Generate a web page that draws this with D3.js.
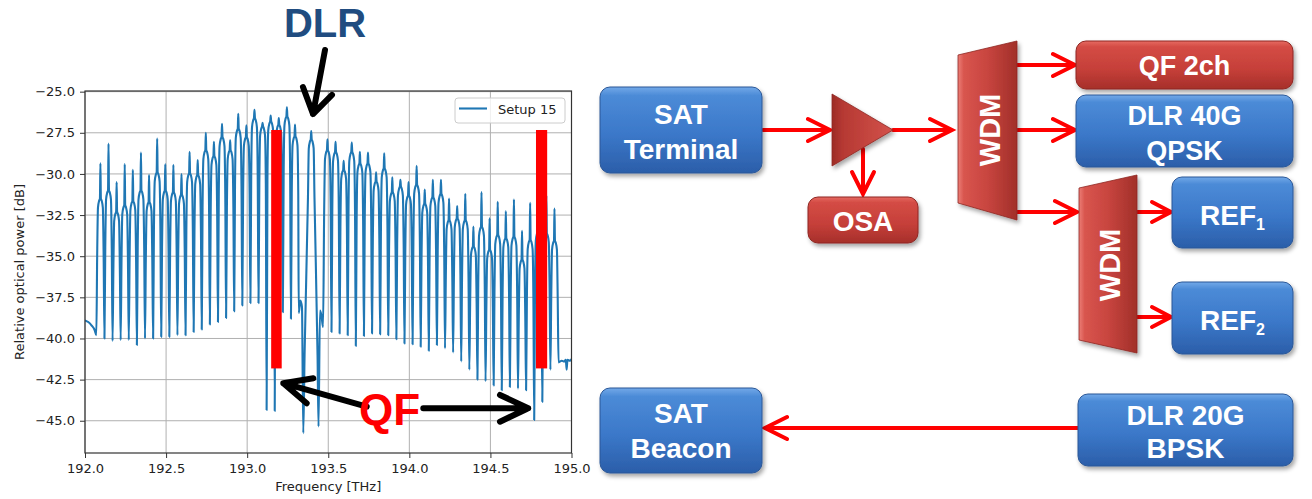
<!DOCTYPE html>
<html>
<head>
<meta charset="utf-8">
<script src="https://cdn.jsdelivr.net/npm/d3@7"></script>
<style>
  html, body { margin: 0; padding: 0; background: #ffffff; }
  svg { display: block; }
</style>
</head>
<body>
<svg id="fig" width="1312" height="499"></svg>
<script>
// ---------------- Spectrum (Setup 15) ----------------
// Channel centres [THz], spike tops and passband shoulders [dB]
const channelFreq = [
  192.095, 192.145, 192.195, 192.245, 192.295, 192.345, 192.395, 192.445, 192.495, 192.545,
  192.595, 192.645, 192.695, 192.745, 192.795, 192.845, 192.895, 192.945, 192.995, 193.045,
  193.095, 193.145, 193.195, 193.245, 193.295, 193.395, 193.495, 193.545, 193.595, 193.645,
  193.695, 193.745, 193.795, 193.845, 193.895, 193.945, 193.995, 194.045, 194.095, 194.145,
  194.195, 194.245, 194.295, 194.345, 194.395, 194.445, 194.495, 194.545, 194.595, 194.645,
  194.695, 194.745, 194.795, 194.845, 194.895
];
const channelPeak = [
  -29.35, -28.15, -30.5, -29.4, -29.75, -28.7, -30.05, -27.85, -29.4, -29.45,
  -30.0, -28.65, -29.15, -27.5, -28.05, -26.95, -27.95, -26.35, -27.05, -26.1,
  -26.9, -26.45, -26.6, -25.95, -27.0, -27.4, -27.9, -28.05, -29.2, -28.1,
  -28.65, -28.7, -29.9, -28.75, -30.2, -30.35, -30.5, -29.5, -30.95, -30.35,
  -30.35, -31.5, -31.95, -31.2, -33.2, -31.1, -32.7, -31.7, -32.25, -31.55,
  -33.45, -31.75, -32.0, -31.3, -32.1
];
const channelShoulder = [
  -31.5, -31.0, -32.3, -31.9, -31.65, -31.0, -31.7, -29.9, -31.0, -31.1,
  -31.25, -29.95, -30.05, -28.55, -28.9, -27.75, -28.55, -27.25, -27.75, -26.6,
  -27.1, -26.8, -27.0, -26.5, -27.7, -27.9, -28.55, -28.65, -29.75, -28.65,
  -29.35, -29.35, -30.45, -29.65, -31.1, -30.75, -31.3, -30.65, -31.8, -31.4,
  -31.2, -32.8, -32.7, -32.8, -34.4, -33.2, -34.6, -33.7, -33.9, -33.8,
  -35.2, -34.0, -33.5, -33.6, -34.05
];
// Inter-channel notch minima
const notchFreq = [
  192.07, 192.12, 192.17, 192.22, 192.27, 192.32, 192.37, 192.42, 192.47, 192.52,
  192.57, 192.62, 192.67, 192.72, 192.77, 192.82, 192.87, 192.92, 192.97, 193.02,
  193.07, 193.12, 193.17, 193.22, 193.27, 193.346, 193.44, 193.52, 193.57, 193.62,
  193.67, 193.72, 193.77, 193.82, 193.87, 193.92, 193.97, 194.02, 194.07, 194.12,
  194.17, 194.22, 194.27, 194.32, 194.37, 194.42, 194.47, 194.52, 194.57, 194.62,
  194.67, 194.72, 194.77, 194.82, 194.87, 194.92
];
const notchDb = [
  -39.8, -40.0, -40.15, -40.1, -40.1, -40.4, -40.0, -40.0, -39.9, -39.9,
  -39.8, -39.8, -39.6, -39.45, -39.15, -39.0, -38.75, -38.35, -38.0, -37.85,
  -37.85, -44.35, -44.4, -38.4, -38.8, -45.75, -45.35, -39.6, -39.7, -39.8,
  -40.45, -39.85, -39.7, -39.75, -39.8, -40.05, -40.3, -40.35, -40.5, -40.75,
  -40.4, -40.6, -40.85, -41.4, -41.9, -42.5, -42.6, -42.85, -43.15, -42.95,
  -43.05, -43.15, -44.95, -43.85, -41.9, -41.45
];
// Out-of-band floor and guard shelves around the DLR channel
const shelfFreq = [
  192.0, 192.02, 192.04, 192.06,
  193.318, 193.328, 193.338, 193.354,
  193.434, 193.449, 193.458, 193.468,
  194.94, 194.955, 194.965, 194.97, 194.975, 194.99, 195.0
];
const shelfDb = [
  -38.9, -39.0, -39.2, -39.5,
  -38.45, -37.7, -38.1, -41.0,
  -41.0, -38.3, -38.6, -39.3,
  -41.35, -41.4, -41.3, -41.9, -41.3, -41.35, -41.25
];
const seriesName = "Setup 15";
const xTicks = [192.0, 192.5, 193.0, 193.5, 194.0, 194.5, 195.0];
const yTicks = [-45.0, -42.5, -40.0, -37.5, -35.0, -32.5, -30.0, -27.5, -25.0];
const xLabel = "Frequency [THz]";
const yLabel = "Relative optical power [dB]";
// QF channel markers (frequency spans and level span)
const qfBandFreq = [[193.148, 193.213], [194.781, 194.850]];
const qfBandDb = [-27.33, -41.82];

// ---------------- Setup diagram labels ----------------
const blockLines = [
  ["SAT", "Terminal"],
  ["OSA"],
  ["QF 2ch"],
  ["DLR 40G", "QPSK"],
  ["REF|1"],
  ["REF|2"],
  ["SAT", "Beacon"],
  ["DLR 20G", "BPSK"]
];
const wdmLabel = "WDM";

// =====================================================
const svg = d3.select("#fig");
const defs = svg.append("defs");

const plot = { left: 85, right: 571.5, top: 91, bottom: 453 };
const x = d3.scaleLinear().domain([192, 195]).range([plot.left, plot.right]);
const y = d3.scaleLinear().domain([-46.96, -24.96]).range([plot.bottom, plot.top]);
const tickFont = "'DejaVu Sans', sans-serif";

defs.append("clipPath").attr("id", "plotClip")
  .append("rect")
  .attr("x", plot.left).attr("y", plot.top)
  .attr("width", plot.right - plot.left).attr("height", plot.bottom - plot.top);

// grid
const grid = svg.append("g");
grid.selectAll(".gx").data(xTicks).join("line")
  .attr("x1", d => x(d)).attr("x2", d => x(d))
  .attr("y1", plot.top).attr("y2", plot.bottom)
  .attr("stroke", "#b0b0b0").attr("stroke-width", 1);
grid.selectAll(".gy").data(yTicks).join("line")
  .attr("x1", plot.left).attr("x2", plot.right)
  .attr("y1", d => y(d)).attr("y2", d => y(d))
  .attr("stroke", "#b0b0b0").attr("stroke-width", 1);

// trace: each channel is a flat-topped passband with a carrier spike
const trace = [];
channelFreq.forEach((c, i) => {
  const S = channelShoulder[i], P = channelPeak[i];
  const profile = [
    [-0.02, S - 3.5], [-0.015, S - 0.55], [-0.0075, S - 0.12], [-0.003, S],
    [0, P],
    [0.003, S], [0.0075, S - 0.12], [0.015, S - 0.55], [0.02, S - 3.5]
  ];
  profile.forEach(([d, v]) => trace.push({ f: c + d, v }));
});
notchFreq.forEach((f, i) => trace.push({ f, v: notchDb[i] }));
shelfFreq.forEach((f, i) => trace.push({ f, v: shelfDb[i] }));
trace.sort((a, b) => a.f - b.f);

const line = d3.line().x(d => x(d.f)).y(d => y(d.v)).curve(d3.curveMonotoneX);
svg.append("path")
  .datum(trace)
  .attr("clip-path", "url(#plotClip)")
  .attr("d", line)
  .attr("fill", "none")
  .attr("stroke", "#1f77b4")
  .attr("stroke-width", 2.1)
  .attr("stroke-linejoin", "round");

// axes
const fmt = d3.format(".1f");
const xAxis = svg.append("g")
  .attr("transform", `translate(0,${plot.bottom})`)
  .call(d3.axisBottom(x).tickValues(xTicks).tickFormat(fmt).tickSize(5).tickPadding(6));
const yAxis = svg.append("g")
  .attr("transform", `translate(${plot.left},0)`)
  .call(d3.axisLeft(y).tickValues(yTicks).tickFormat(fmt).tickSize(5).tickPadding(5));
[xAxis, yAxis].forEach(g => {
  g.select(".domain").remove();
  g.selectAll(".tick line").attr("stroke", "#333").attr("stroke-width", 1);
  g.selectAll(".tick text")
    .attr("fill", "#222")
    .style("font-family", tickFont)
    .style("font-size", "13px");
});

// frame
svg.append("rect")
  .attr("x", plot.left).attr("y", plot.top)
  .attr("width", plot.right - plot.left).attr("height", plot.bottom - plot.top)
  .attr("fill", "none").attr("stroke", "#333").attr("stroke-width", 1.2);

// axis labels
svg.append("text")
  .attr("x", (plot.left + plot.right) / 2).attr("y", 491)
  .attr("text-anchor", "middle")
  .attr("fill", "#222")
  .style("font-family", tickFont).style("font-size", "13px")
  .text(xLabel);
svg.append("text")
  .attr("transform", `translate(23.5,${(plot.top + plot.bottom) / 2}) rotate(-90)`)
  .attr("text-anchor", "middle")
  .attr("fill", "#222")
  .style("font-family", tickFont).style("font-size", "13px")
  .text(yLabel);

// legend
const leg = svg.append("g");
leg.append("rect")
  .attr("x", 455).attr("y", 98).attr("width", 110).attr("height", 25).attr("rx", 3)
  .attr("fill", "#fff").attr("fill-opacity", 0.8)
  .attr("stroke", "#cccccc").attr("stroke-width", 1);
leg.append("line")
  .attr("x1", 459).attr("x2", 487).attr("y1", 108.5).attr("y2", 108.5)
  .attr("stroke", "#1f77b4").attr("stroke-width", 2.1);
leg.append("text")
  .attr("x", 498).attr("y", 114)
  .attr("fill", "#222")
  .style("font-family", tickFont).style("font-size", "13px")
  .text(seriesName);

// ---------------- annotations on the spectrum ----------------
const boldFont = "'Liberation Sans', Arial, sans-serif";
svg.selectAll(".qfband").data(qfBandFreq).join("rect")
  .attr("x", d => x(d[0])).attr("width", d => x(d[1]) - x(d[0]))
  .attr("y", y(qfBandDb[0])).attr("height", y(qfBandDb[1]) - y(qfBandDb[0]))
  .attr("fill", "#ff0000");

function blackArrow(tail, tip, armA, armB) {
  const p = d3.path();
  p.moveTo(x(tail[0]), y(tail[1]));
  p.lineTo(x(tip[0]), y(tip[1]));
  p.moveTo(x(armA[0]), y(armA[1]));
  p.lineTo(x(tip[0]), y(tip[1]));
  p.lineTo(x(armB[0]), y(armB[1]));
  svg.append("path").attr("d", p.toString())
    .attr("fill", "none").attr("stroke", "#000").attr("stroke-width", 6)
    .attr("stroke-linecap", "round").attr("stroke-linejoin", "round");
}
// DLR pointer
blackArrow([193.480, -22.47], [193.406, -26.36], [193.344, -24.72], [193.523, -25.20]);
// QF pointers
blackArrow([193.737, -44.14], [193.223, -42.72], [193.408, -42.42], [193.367, -43.94]);
blackArrow([194.086, -44.24], [194.733, -44.24], [194.559, -43.43], [194.559, -45.06]);

svg.append("text")
  .attr("x", x(193.48)).attr("y", y(-21.68))
  .attr("text-anchor", "middle")
  .attr("fill", "#204c80")
  .style("font-family", boldFont).style("font-weight", "bold").style("font-size", "40px")
  .text("DLR");
svg.append("text")
  .attr("x", x(193.878)).attr("y", y(-45.26))
  .attr("text-anchor", "middle")
  .attr("fill", "#ff0000")
  .style("font-family", boldFont).style("font-weight", "bold").style("font-size", "44px")
  .text("QF");

// ---------------- setup diagram ----------------
const shadow = defs.append("filter").attr("id", "shadow")
  .attr("x", "-20%").attr("y", "-20%").attr("width", "140%").attr("height", "150%");
shadow.append("feDropShadow")
  .attr("dx", 2).attr("dy", 3).attr("stdDeviation", 2)
  .attr("flood-color", "#000").attr("flood-opacity", 0.35);

function vGrad(id, stops) {
  const g = defs.append("linearGradient").attr("id", id)
    .attr("x1", 0).attr("y1", 0).attr("x2", 0).attr("y2", 1);
  stops.forEach(([o, c]) => g.append("stop").attr("offset", o).attr("stop-color", c));
}
function hGrad(id, stops) {
  const g = defs.append("linearGradient").attr("id", id)
    .attr("x1", 0).attr("y1", 0).attr("x2", 1).attr("y2", 0);
  stops.forEach(([o, c]) => g.append("stop").attr("offset", o).attr("stop-color", c));
}
vGrad("blueFill", [[0, "#72a9e8"], [0.1, "#4c8bd7"], [0.55, "#3b78c9"], [1, "#2b5ea9"]]);
vGrad("redFill", [[0, "#e66a62"], [0.12, "#d44c45"], [0.6, "#c53f39"], [1, "#a62f2a"]]);
hGrad("wdmFill", [[0, "#ec7e76"], [0.1, "#d8554e"], [0.5, "#c8453f"], [1, "#a12f29"]]);
hGrad("ampFill", [[0, "#9c2b25"], [0.18, "#b63933"], [1, "#d3524b"]]);

const redArrow = "#ff0000";
const links = [
  [763, 130, 830, 130],
  [893, 130, 952, 130],
  [863, 149, 863, 194],
  [1017, 65, 1075, 65],
  [1017, 130, 1075, 130],
  [1017, 212, 1077, 212],
  [1137, 212, 1171, 212],
  [1137, 317, 1171, 317],
  [1078, 428, 765, 428]
];

const blockLayout = [
  { x: 600, y: 87, w: 162, h: 86, fill: "blueFill", base: [124, 159], fs: 28 },
  { x: 808, y: 197, w: 110, h: 46, fill: "redFill", base: [231], fs: 28 },
  { x: 1076, y: 41, w: 217, h: 48, fill: "redFill", base: [75], fs: 27 },
  { x: 1076, y: 95, w: 217, h: 72, fill: "blueFill", base: [125, 160], fs: 27 },
  { x: 1172, y: 177, w: 121, h: 71, fill: "blueFill", base: [225], fs: 28 },
  { x: 1172, y: 282, w: 121, h: 72, fill: "blueFill", base: [330], fs: 28 },
  { x: 600, y: 388, w: 162, h: 85, fill: "blueFill", base: [423, 458], fs: 28 },
  { x: 1078, y: 394, w: 215, h: 72, fill: "blueFill", base: [425, 458], fs: 28 }
];
const wdmLayout = [
  { pts: [[958, 55], [1017, 41], [1017, 220], [958, 203]], bx: 1000, cy: 130 },
  { pts: [[1079, 188], [1137, 175], [1137, 353], [1079, 340]], bx: 1120, cy: 265 }
];

const diag = svg.append("g");

// connections (drawn first so shapes sit on top of their ends)
links.forEach(([x1, y1, x2, y2]) => {
  const len = Math.hypot(x2 - x1, y2 - y1);
  const ux = (x2 - x1) / len, uy = (y2 - y1) / len;
  const back = len < 45 ? 19 : 22, half = len < 45 ? 10 : 11;
  const p = d3.path();
  p.moveTo(x1, y1); p.lineTo(x2 - ux * 2, y2 - uy * 2);
  p.moveTo(x2 - ux * back - uy * half, y2 - uy * back + ux * half);
  p.lineTo(x2, y2);
  p.lineTo(x2 - ux * back + uy * half, y2 - uy * back - ux * half);
  diag.append("path").attr("d", p.toString())
    .attr("fill", "none").attr("stroke", redArrow).attr("stroke-width", 4)
    .attr("stroke-linecap", "round").attr("stroke-linejoin", "miter");
});

// amplifier
diag.append("polygon")
  .attr("points", [[832, 94], [832, 166], [893, 130]].map(p => p.join(",")).join(" "))
  .attr("fill", "url(#ampFill)").attr("stroke", "#8e2722").attr("stroke-width", 0.8)
  .attr("filter", "url(#shadow)");

// WDM demultiplexers
wdmLayout.forEach(w => {
  diag.append("polygon")
    .attr("points", w.pts.map(p => p.join(",")).join(" "))
    .attr("fill", "url(#wdmFill)").attr("stroke", "#8e2722").attr("stroke-width", 0.8)
    .attr("filter", "url(#shadow)");
  diag.append("text")
    .attr("transform", `translate(${w.bx},${w.cy}) rotate(-90)`)
    .attr("text-anchor", "middle")
    .attr("fill", "#fff")
    .style("font-family", boldFont).style("font-weight", "bold").style("font-size", "29px")
    .text(wdmLabel);
});

// blocks
blockLayout.forEach((b, i) => {
  diag.append("rect")
    .attr("x", b.x).attr("y", b.y).attr("width", b.w).attr("height", b.h)
    .attr("rx", 10).attr("ry", 10)
    .attr("fill", `url(#${b.fill})`)
    .attr("stroke", b.fill === "blueFill" ? "#2a5797" : "#8e2722").attr("stroke-width", 1)
    .attr("filter", "url(#shadow)");
  blockLines[i].forEach((txt, k) => {
    const t = diag.append("text")
      .attr("x", b.x + b.w / 2).attr("y", b.base[k])
      .attr("text-anchor", "middle")
      .attr("fill", "#fff")
      .style("font-family", boldFont).style("font-weight", "bold")
      .style("font-size", b.fs + "px");
    const parts = txt.split("|");
    t.append("tspan").text(parts[0]);
    if (parts[1]) {
      t.append("tspan").attr("dy", 5).style("font-size", "16px").text(parts[1]);
    }
  });
});
</script>
</body>
</html>
